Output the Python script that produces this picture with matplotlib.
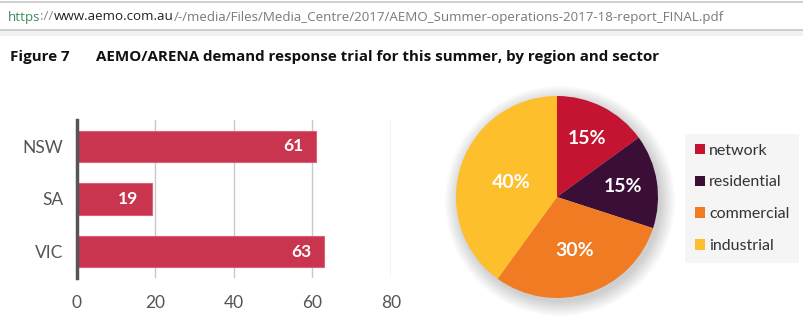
import matplotlib
matplotlib.use("Agg")
import matplotlib.pyplot as plt
from matplotlib.patches import Patch, Rectangle, Circle
import numpy as np

# ---- data ----
regions = ["NSW", "SA", "VIC"]
region_values = [61, 19, 63]
x_ticks = [0, 20, 40, 60, 80]

sectors = ["network", "residential", "commercial", "industrial"]
sector_shares = [15, 15, 30, 40]
sector_colors = ["#C41432", "#3A0E36", "#F07B22", "#FDBF2B"]

title_fig = "Figure 7"
title_text = "AEMO/ARENA demand response trial for this summer, by region and sector"
url_parts = [("https", "#3C8A5C"), ("://", "#8A8A8A"), ("www.aemo.com.au", "#222222"),
             ("/-/media/Files/Media_Centre/2017/AEMO_Summer-operations-2017-18-report_FINAL.pdf", "#7A7A7A")]

W, H = 804, 322
fig = plt.figure(figsize=(W / 100, H / 100), dpi=100)
fig.patch.set_facecolor("white")

def fx(px):
    return px / W

def fy(py):
    return 1 - py / H

FONT = "Lato"

# ---- URL bar ----
fig.patches.append(Rectangle((0, fy(36)), 1, (36 - 29) / H, transform=fig.transFigure,
                             facecolor="#F1F1F1", edgecolor="none", zorder=0))
fig.add_artist(plt.Line2D([0, 1], [fy(2), fy(2)], color="#C8C8C8", lw=1.2, transform=fig.transFigure))
fig.add_artist(plt.Line2D([0, 1], [fy(29.5), fy(29.5)], color="#C8C8C8", lw=1.2, transform=fig.transFigure))

renderer = fig.canvas.get_renderer()
xpos = 8
for txt, col in url_parts:
    t = fig.text(fx(xpos), fy(17), txt, color=col, fontsize=9.6, family="Open Sans",
                 va="center", ha="left")
    bb = t.get_window_extent(renderer=renderer)
    xpos += bb.width

# ---- title ----
fig.text(fx(10), fy(57), title_fig, fontsize=10.9, fontweight="bold", family="Open Sans",
         va="center", ha="left", color="#111111")
fig.text(fx(96), fy(57), title_text, fontsize=10.9, fontweight="bold", family="Open Sans",
         va="center", ha="left", color="#111111")

# ---- bar chart ----
ax = fig.add_axes([fx(77), fy(278), fx(391) - fx(77), (278 - 120) / H])
ypos = np.arange(len(regions))
bars = ax.barh(ypos, region_values, height=0.6, color="#C9344E", edgecolor="#D9627A",
               linewidth=0.8, zorder=3)
ax.set_xlim(0, 80)
ax.set_ylim(len(regions) - 0.5, -0.5)
ax.set_xticks(x_ticks)
ax.set_xticklabels([str(v) for v in x_ticks])
ax.set_yticks(ypos)
ax.set_yticklabels(regions)
for s in ["top", "right", "bottom"]:
    ax.spines[s].set_visible(False)
ax.spines["left"].set_color("#555555")
ax.spines["left"].set_linewidth(2.5)
ax.spines["left"].set_zorder(5)
ax.grid(axis="x", color="#C8C8C8", linewidth=1.0, zorder=0)
ax.tick_params(axis="both", length=0, labelsize=12.5, labelcolor="#555555")
ax.tick_params(axis="x", pad=12)
ax.tick_params(axis="y", pad=10)
for lab in ax.get_xticklabels() + ax.get_yticklabels():
    lab.set_family(FONT)
for b, v in zip(bars, region_values):
    ax.annotate(str(v), (v, b.get_y() + b.get_height() / 2), xytext=(-13, 0),
                textcoords="offset pixels", ha="right", va="center", color="white",
                fontsize=12.5, fontweight="bold", family=FONT, zorder=6)

# ---- pie ----
cx, cy, r = 557, 197, 101
ext = 1.25
pax = fig.add_axes([fx(cx - r * ext), fy(cy + r * ext), 2 * r * ext / W, 2 * r * ext / H])
pax.set_xlim(-ext, ext)
pax.set_ylim(-ext, ext)
pax.set_aspect("equal")
pax.axis("off")
# soft shadow
for i, rr in enumerate(np.linspace(1.14, 1.0, 12)):
    pax.add_patch(Circle((0.03, -0.04), rr, facecolor="#000000", alpha=0.014, edgecolor="none", zorder=0))
wedges, _ = pax.pie(sector_shares, colors=sector_colors, startangle=90, counterclock=False,
                    radius=1.0, wedgeprops=dict(linewidth=0, zorder=2))
label_r = [0.65, 0.66, 0.56, 0.48]
for w, v, lr in zip(wedges, sector_shares, label_r):
    ang = np.deg2rad((w.theta1 + w.theta2) / 2)
    pax.text(lr * np.cos(ang), lr * np.sin(ang), f"{v}%", ha="center", va="center",
             color="white", fontsize=14, fontweight="bold", family=FONT, zorder=5)

# ---- legend ----
handles = [Patch(facecolor=c, edgecolor="none") for c in sector_colors]
leg = fig.legend(handles, sectors, loc="upper left",
                 bbox_to_anchor=(fx(685), fy(134)), bbox_transform=fig.transFigure,
                 frameon=True, handlelength=0.65, handleheight=0.65,
                 handletextpad=0.25, labelspacing=1.12, borderpad=0.6, borderaxespad=0,
                 prop={"family": FONT, "size": 11.5})
leg.get_frame().set_facecolor("#F3F3F3")
leg.get_frame().set_edgecolor("none")
leg.get_frame().set_boxstyle("square", pad=0)
for t in leg.get_texts():
    t.set_color("#333333")

fig.savefig("out.png", dpi=100, facecolor="white")
